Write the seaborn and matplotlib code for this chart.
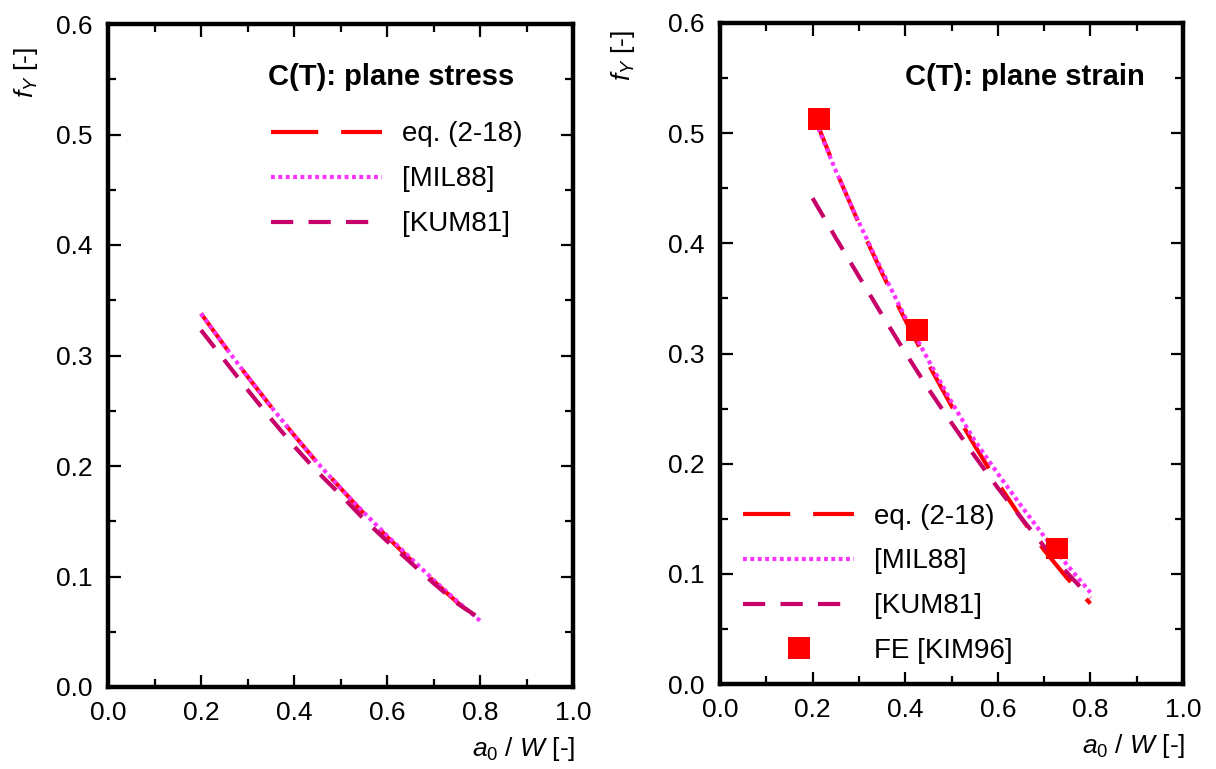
import numpy as np
import pandas as pd
import matplotlib
matplotlib.use("Agg")
import matplotlib.pyplot as plt
from matplotlib.lines import Line2D
from matplotlib.ticker import MultipleLocator
import seaborn as sns

# ---------------- data ----------------
a_vals = [0.20, 0.25, 0.30, 0.35, 0.40, 0.45, 0.50, 0.55, 0.60, 0.65, 0.70, 0.75, 0.80]

# plane stress
stress_eq  = [0.338, 0.309, 0.281, 0.254, 0.228, 0.203, 0.180, 0.157, 0.136, 0.1155, 0.096, 0.077, 0.060]
stress_mil = [0.338, 0.309, 0.281, 0.254, 0.228, 0.203, 0.180, 0.158, 0.137, 0.117, 0.097, 0.078, 0.060]
stress_kum = [0.323, 0.296, 0.269, 0.243, 0.218, 0.195, 0.174, 0.152, 0.132, 0.113, 0.094, 0.076, 0.062]

# plane strain
strain_eq  = [0.519, 0.4665, 0.418, 0.373, 0.3305, 0.2905, 0.2525, 0.2165, 0.1825, 0.151, 0.1215, 0.096, 0.073]
strain_mil = [0.517, 0.466, 0.419, 0.375, 0.333, 0.294, 0.256, 0.221, 0.191, 0.162, 0.134, 0.108, 0.083]
strain_kum = [0.441, 0.405, 0.370, 0.335, 0.301, 0.268, 0.237, 0.207, 0.178, 0.151, 0.125, 0.101, 0.078]

fe_a = [0.214, 0.425, 0.728]
fe_f = [0.513, 0.321, 0.123]

labels = ["eq. (2-18)", "[MIL88]", "[KUM81]"]
fe_label = "FE [KIM96]"
titles = ["C(T): plane stress", "C(T): plane strain"]
xticks = [0.0, 0.2, 0.4, 0.6, 0.8, 1.0]
yticks = [0.0, 0.1, 0.2, 0.3, 0.4, 0.5, 0.6]

# ---------------- style ----------------
sns.set_theme(style="ticks")
plt.rcParams["font.family"] = ["Liberation Sans", "DejaVu Sans"]
plt.rcParams["mathtext.fontset"] = "custom"
plt.rcParams["mathtext.rm"] = "Liberation Sans"
plt.rcParams["mathtext.it"] = "Liberation Sans:italic"
plt.rcParams["mathtext.bf"] = "Liberation Sans:bold"
plt.rcParams["lines.scale_dashes"] = False
for k in ["text.color", "axes.labelcolor", "xtick.color", "ytick.color", "axes.edgecolor"]:
    plt.rcParams[k] = "black"

colors = ["#ff0000", "#ff33ff", "#c8006a"]
styles = [(0, (34, 16.5)), (0, (2.8, 2.5)), (0, (16, 11))]
lw = 3.0

fig = plt.figure(figsize=(12.16, 7.69), dpi=100)
W, H = 1216, 769
ax1 = fig.add_axes([108 / W, 1 - 687 / H, 465 / W, 663 / H])
ax2 = fig.add_axes([720 / W, 1 - 684 / H, 463 / W, 661 / H])


def style_axes(ax):
    ax.set_xlim(0, 1)
    ax.set_ylim(0, 0.6)
    ax.set_xticks(xticks)
    ax.set_yticks(yticks)
    ax.xaxis.set_minor_locator(MultipleLocator(0.1))
    ax.yaxis.set_minor_locator(MultipleLocator(0.05))
    ax.tick_params(which="both", direction="in", top=True, right=True,
                   color="black", width=1.6)
    ax.tick_params(which="major", length=9)
    ax.tick_params(which="minor", length=5.5)
    ax.tick_params(axis="x", which="major", labelsize=19, pad=10)
    ax.tick_params(axis="y", which="major", labelsize=19, pad=11)
    for sp in ax.spines.values():
        sp.set_linewidth(3.2)
        sp.set_color("black")
        sp.set_visible(True)
    ax.set_xlabel(r"$a_0$ / $W$ [-]", fontsize=19)
    ax.xaxis.set_label_coords(1.005, -0.072)
    ax.xaxis.label.set_ha("right")
    ax.xaxis.label.set_va("top")
    ax.set_ylabel(r"$f_{Y}$ [-]", fontsize=19)
    ax.yaxis.label.set_ha("right")
    ax.grid(False)


for ax, series in [(ax1, [stress_eq, stress_mil, stress_kum]),
                   (ax2, [strain_eq, strain_mil, strain_kum])]:
    for vals, c, ls in zip(series, colors, styles):
        sns.lineplot(x=a_vals, y=vals, ax=ax, color=c, linewidth=lw,
                     linestyle=ls, legend=False, sort=False)
    style_axes(ax)

sns.scatterplot(x=fe_a, y=fe_f, ax=ax2, marker="s", s=250, color="#ff0000",
                edgecolor="none", linewidth=0, zorder=5, legend=False)

ax1.yaxis.set_label_coords(-0.146, 0.965)
ax2.yaxis.set_label_coords(-0.179, 0.99)

handles = [Line2D([], [], color=c, lw=lw, linestyle=ls) for c, ls in zip(colors, styles)]
fe_handle = Line2D([], [], color="#ff0000", marker="s", markersize=15.8,
                   linestyle="none", markeredgewidth=0)

leg_kw = dict(frameon=False, fontsize=20, handlelength=4.0, handletextpad=0.7,
              labelspacing=0.68, borderpad=0, borderaxespad=0, loc="upper left")
ax1.legend(handles, labels, bbox_to_anchor=(0.351, 0.853), **leg_kw)
ax2.legend(handles + [fe_handle], labels + [fe_label],
           bbox_to_anchor=(0.050, 0.273), **leg_kw)

ax1.text(0.344, 0.92, titles[0], transform=ax1.transAxes, fontsize=21,
         fontweight="bold", ha="left", va="center")
ax2.text(0.40, 0.918, titles[1], transform=ax2.transAxes, fontsize=21,
         fontweight="bold", ha="left", va="center")

fig.savefig("out.png", dpi=100)
